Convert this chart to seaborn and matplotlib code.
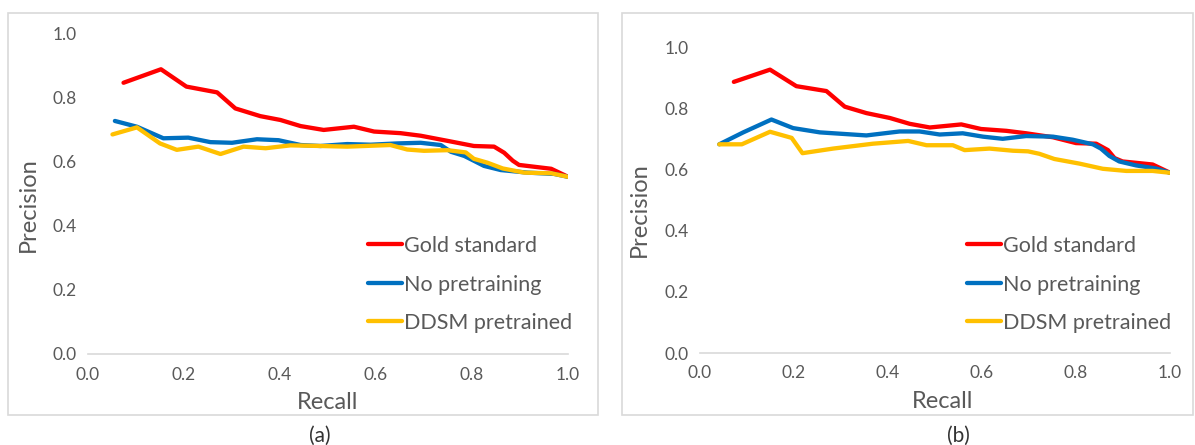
import matplotlib
matplotlib.use("Agg")
import matplotlib.pyplot as plt
import seaborn as sns
import pandas as pd
from matplotlib.patches import Rectangle

# ---------------- data ----------------
series_names = ["Gold standard", "No pretraining", "DDSM pretrained"]
colors = ["#FF0000", "#0070C0", "#FFC000"]
ticks = [0.0, 0.2, 0.4, 0.6, 0.8, 1.0]
tick_labels = ["0.0", "0.2", "0.4", "0.6", "0.8", "1.0"]

# Panel (a)
a_gold_recall = [0.074, 0.152, 0.205, 0.269, 0.307, 0.359, 0.401, 0.443, 0.491, 0.554, 0.596,
                 0.651, 0.693, 0.749, 0.804, 0.846, 0.867, 0.885, 0.898, 0.965, 1.0]
a_gold_prec = [0.845, 0.887, 0.833, 0.815, 0.765, 0.741, 0.729, 0.710, 0.698, 0.708, 0.693,
               0.688, 0.680, 0.664, 0.648, 0.646, 0.627, 0.602, 0.589, 0.577, 0.552]
a_nopre_recall = [0.056, 0.102, 0.157, 0.209, 0.255, 0.300, 0.352, 0.397, 0.443, 0.484, 0.540,
                  0.589, 0.644, 0.693, 0.735, 0.756, 0.784, 0.825, 0.860, 0.916, 0.971, 1.0]
a_nopre_prec = [0.726, 0.708, 0.672, 0.674, 0.660, 0.658, 0.669, 0.666, 0.651, 0.648, 0.654,
                0.652, 0.656, 0.658, 0.651, 0.630, 0.617, 0.586, 0.573, 0.565, 0.561, 0.552]
a_ddsm_recall = [0.051, 0.102, 0.150, 0.185, 0.230, 0.276, 0.324, 0.370, 0.422, 0.484, 0.540,
                 0.630, 0.665, 0.700, 0.749, 0.787, 0.804, 0.832, 0.864, 0.909, 0.965, 1.0]
a_ddsm_prec = [0.684, 0.706, 0.656, 0.636, 0.646, 0.623, 0.646, 0.641, 0.650, 0.648, 0.646,
               0.651, 0.637, 0.633, 0.635, 0.628, 0.608, 0.596, 0.578, 0.565, 0.563, 0.552]

# Panel (b)
b_gold_recall = [0.072, 0.149, 0.205, 0.269, 0.308, 0.354, 0.404, 0.446, 0.489, 0.556, 0.598,
                 0.652, 0.694, 0.751, 0.800, 0.843, 0.868, 0.882, 0.899, 0.963, 1.0]
b_gold_prec = [0.886, 0.926, 0.872, 0.856, 0.805, 0.784, 0.768, 0.749, 0.737, 0.747, 0.732,
               0.726, 0.718, 0.705, 0.686, 0.684, 0.663, 0.637, 0.626, 0.616, 0.589]
b_nopre_recall = [0.041, 0.092, 0.152, 0.198, 0.255, 0.354, 0.425, 0.467, 0.510, 0.559, 0.602,
                  0.644, 0.694, 0.751, 0.793, 0.836, 0.853, 0.871, 0.892, 0.928, 0.970, 1.0]
b_nopre_prec = [0.682, 0.721, 0.763, 0.735, 0.721, 0.711, 0.724, 0.724, 0.714, 0.718, 0.707,
                0.700, 0.709, 0.707, 0.697, 0.682, 0.668, 0.644, 0.626, 0.613, 0.603, 0.589]
b_ddsm_recall = [0.041, 0.089, 0.149, 0.195, 0.218, 0.283, 0.368, 0.443, 0.482, 0.538, 0.563,
                 0.616, 0.666, 0.698, 0.722, 0.754, 0.807, 0.857, 0.907, 0.963, 1.0]
b_ddsm_prec = [0.682, 0.682, 0.723, 0.703, 0.653, 0.668, 0.684, 0.693, 0.679, 0.679, 0.663,
               0.668, 0.661, 0.659, 0.651, 0.634, 0.619, 0.602, 0.595, 0.595, 0.589]


def long_df(recalls, precs):
    rows = []
    for name, rr, pp in zip(series_names, recalls, precs):
        for r, p in zip(rr, pp):
            rows.append({"Recall": r, "Precision": p, "Series": name})
    return pd.DataFrame(rows)


df_a = long_df([a_gold_recall, a_nopre_recall, a_ddsm_recall],
               [a_gold_prec, a_nopre_prec, a_ddsm_prec])
df_b = long_df([b_gold_recall, b_nopre_recall, b_ddsm_recall],
               [b_gold_prec, b_nopre_prec, b_ddsm_prec])

# ---------------- style ----------------
sns.set_theme(style="white")
plt.rcParams["font.family"] = ["Lato", "DejaVu Sans"]
TXT = "#595959"
GRID = "#D9D9D9"

W, H = 1195, 445
fig = plt.figure(figsize=(W / 100, H / 100), dpi=100)

# panel borders
for x0, x1 in [(8, 598), (622, 1193)]:
    fig.patches.append(Rectangle((x0 / W, 1 - 415 / H), (x1 - x0) / W, 402 / H,
                                 transform=fig.transFigure, fill=False,
                                 edgecolor=GRID, linewidth=1.2, zorder=0))

panels = [
    dict(df=df_a, rect=[88 / W, 91 / H, 480 / W, 321 / H], ylab=(-0.125, 0.464),
         xlab=(0.5, -0.15), leg=(368 / W, 1 - 236 / H), cap=(320 / W, "(a)")),
    dict(df=df_b, rect=[700 / W, 92 / H, 470 / W, 306 / H], ylab=(-0.128, 0.467),
         xlab=(0.517, -0.16), leg=(967 / W, 1 - 236 / H), cap=(958 / W, "(b)")),
]

for p in panels:
    ax = fig.add_axes(p["rect"])
    sns.lineplot(data=p["df"], x="Recall", y="Precision", hue="Series",
                 hue_order=series_names, palette=colors, estimator=None,
                 sort=False, linewidth=3.1, ax=ax, legend=False)
    ax.set_xlim(0, 1)
    ax.set_ylim(0, 1)
    ax.set_xticks(ticks)
    ax.set_xticklabels(tick_labels)
    ax.set_yticks(ticks)
    ax.set_yticklabels(tick_labels)
    ax.tick_params(axis="both", length=0, labelsize=12.5, colors=TXT)
    ax.tick_params(axis="x", pad=9)
    ax.tick_params(axis="y", pad=8)
    for s in ["top", "right", "left"]:
        ax.spines[s].set_visible(False)
    ax.spines["bottom"].set_color(GRID)
    ax.spines["bottom"].set_linewidth(1.2)
    ax.set_facecolor("none")
    ax.set_xlabel("Recall", fontsize=17, color=TXT)
    ax.set_ylabel("Precision", fontsize=17, color=TXT)
    ax.xaxis.set_label_coords(*p["xlab"])
    ax.yaxis.set_label_coords(*p["ylab"])
    ax.xaxis.label.set_va("center")
    ax.yaxis.label.set_va("center")
    handles = [plt.Line2D([], [], color=c, linewidth=3.1) for c in colors]
    leg = fig.legend(handles, series_names, loc="upper left",
                     bbox_to_anchor=p["leg"], bbox_transform=fig.transFigure,
                     frameon=False, fontsize=15.5, handlelength=1.6,
                     handletextpad=0.05, labelspacing=0.86, borderpad=0,
                     borderaxespad=0)
    for t in leg.get_texts():
        t.set_color(TXT)
    fig.text(p["cap"][0], 1 - 436 / H, p["cap"][1], ha="center", va="center",
             fontsize=15, color="#333333")

fig.savefig("out.png", dpi=100)
